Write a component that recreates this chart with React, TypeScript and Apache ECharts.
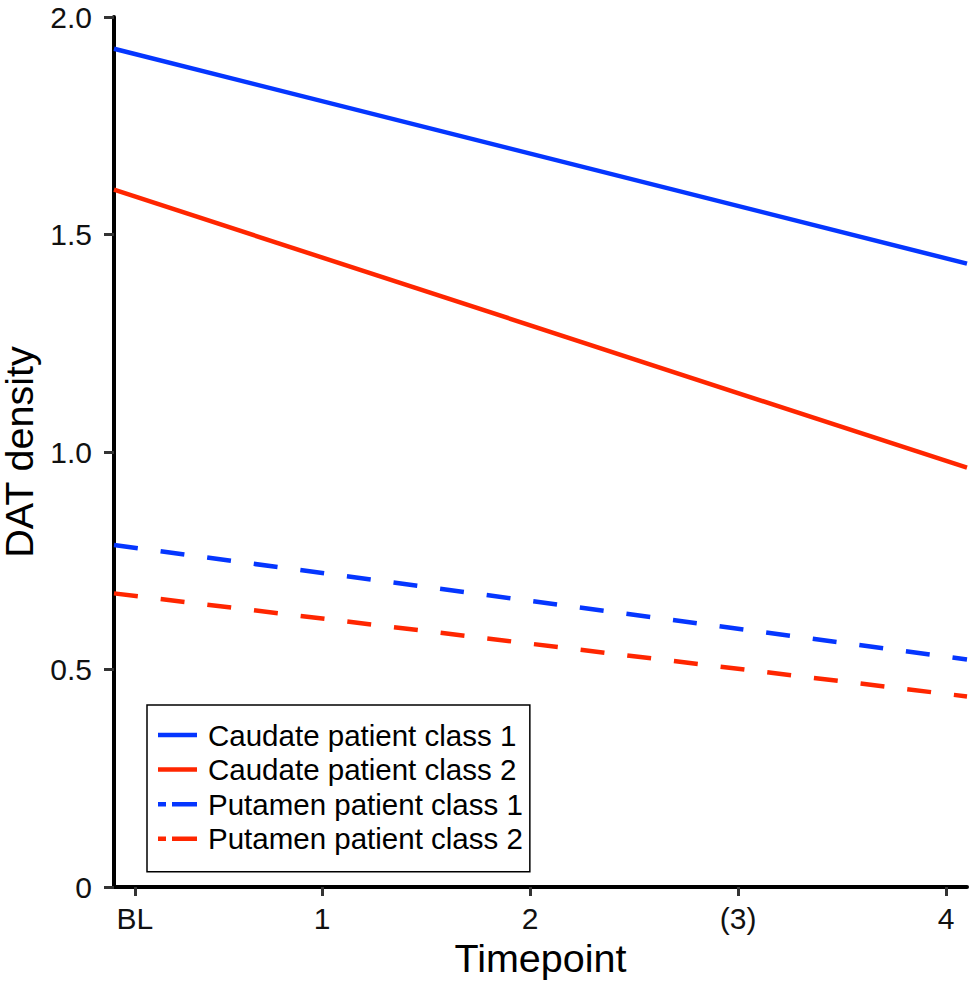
import React, { useEffect, useRef } from "react";
import * as echarts from "echarts";

const FONT = "'Liberation Sans', Arial, Helvetica, sans-serif";

// x positions of the tick marks and their labels
const xTickValues = [0.1, 1, 2, 3, 4];
const xTickLabels = ["BL", "1", "2", "(3)", "4"];

// line end points (x from axis start to axis end)
const xEnds = [0, 4.1];
const caudateClass1 = [1.927, 1.433];
const caudateClass2 = [1.603, 0.964];
const putamenClass1 = [0.786, 0.523];
const putamenClass2 = [0.675, 0.438];

const seriesNames = [
  "Caudate patient class 1",
  "Caudate patient class 2",
  "Putamen patient class 1",
  "Putamen patient class 2",
];

const BLUE = "#0536ff";
const RED = "#ff2600";

const SOLID_ICON = "path://M0,0H39V4.5H0Z";
const DASH_ICON = "path://M0,0H8V4.5H0ZM14,0H39V4.5H14Z";

export default function App() {
  const ref = useRef<HTMLDivElement>(null);

  useEffect(() => {
    if (!ref.current) return;
    const chart = echarts.init(ref.current, undefined, { renderer: "svg" });

    const mk = (name: string, vals: number[], color: string, dashed: boolean) => ({
      name,
      type: "line",
      data: xEnds.map((x, i) => [x, vals[i]]),
      symbol: "none",
      showSymbol: false,
      lineStyle: {
        color,
        width: 4.5,
        type: dashed ? [24, 23] : "solid",
        cap: "butt",
      },
      itemStyle: { color },
      emphasis: { disabled: true },
      z: 3,
    });

    chart.setOption({
      animation: false,
      backgroundColor: "#ffffff",
      textStyle: { fontFamily: FONT },
      grid: {
        left: 114,
        right: 8,
        top: 17,
        bottom: 97,
        containLabel: false,
        outerBoundsMode: "none",
      },
      legend: {
        orient: "vertical",
        left: 147,
        top: 705,
        data: [
          { name: seriesNames[0], icon: SOLID_ICON },
          { name: seriesNames[1], icon: SOLID_ICON },
          { name: seriesNames[2], icon: DASH_ICON },
          { name: seriesNames[3], icon: DASH_ICON },
        ],
        symbolKeepAspect: false,
        backgroundColor: "#ffffff",
        borderColor: "#000000",
        borderWidth: 1.5,
        borderRadius: 0,
        padding: [15, 7, 18, 11],
        itemWidth: 39,
        itemHeight: 4.5,
        itemGap: 4.6,
        textStyle: {
          fontSize: 29.5,
          color: "#000000",
          fontFamily: FONT,
          lineHeight: 30,
          padding: [0, 0, 0, 6],
        },
        selectedMode: false,
      },
      xAxis: {
        type: "value",
        min: 0,
        max: 4.1,
        name: "Timepoint",
        nameLocation: "middle",
        nameGap: 49,
        nameTextStyle: { fontSize: 39.5, color: "#000000", fontFamily: FONT },
        axisLine: { show: true, onZero: false, lineStyle: { color: "#000000", width: 4 } },
        axisTick: {
          show: true,
          customValues: xTickValues,
          length: 9,
          lineStyle: { color: "#333333", width: 3 },
        },
        axisLabel: {
          show: true,
          customValues: xTickValues,
          margin: 16,
          fontSize: 30,
          color: "#111111",
          fontFamily: FONT,
          formatter: (v: number) => {
            const i = xTickValues.findIndex((t) => Math.abs(t - v) < 1e-6);
            return i >= 0 ? xTickLabels[i] : "";
          },
        },
        splitLine: { show: false },
      },
      yAxis: {
        type: "value",
        min: 0,
        max: 2,
        interval: 0.5,
        name: "DAT density",
        nameLocation: "middle",
        nameGap: 68,
        nameTextStyle: { fontSize: 39.5, color: "#000000", fontFamily: FONT },
        axisLine: { show: true, onZero: false, lineStyle: { color: "#000000", width: 4 } },
        axisTick: { show: true, length: 10, lineStyle: { color: "#333333", width: 3 } },
        axisLabel: {
          margin: 22,
          fontSize: 30,
          color: "#111111",
          fontFamily: FONT,
          formatter: (v: number) => (v === 0 ? "0" : v.toFixed(1)),
        },
        splitLine: { show: false },
      },
      series: [
        mk(seriesNames[0], caudateClass1, BLUE, false),
        mk(seriesNames[1], caudateClass2, RED, false),
        mk(seriesNames[2], putamenClass1, BLUE, true),
        mk(seriesNames[3], putamenClass2, RED, true),
      ],
    });

    return () => chart.dispose();
  }, []);

  return (
    <div
      ref={ref}
      style={{ position: "absolute", left: 0, top: 0, width: 975, height: 984 }}
    />
  );
}
